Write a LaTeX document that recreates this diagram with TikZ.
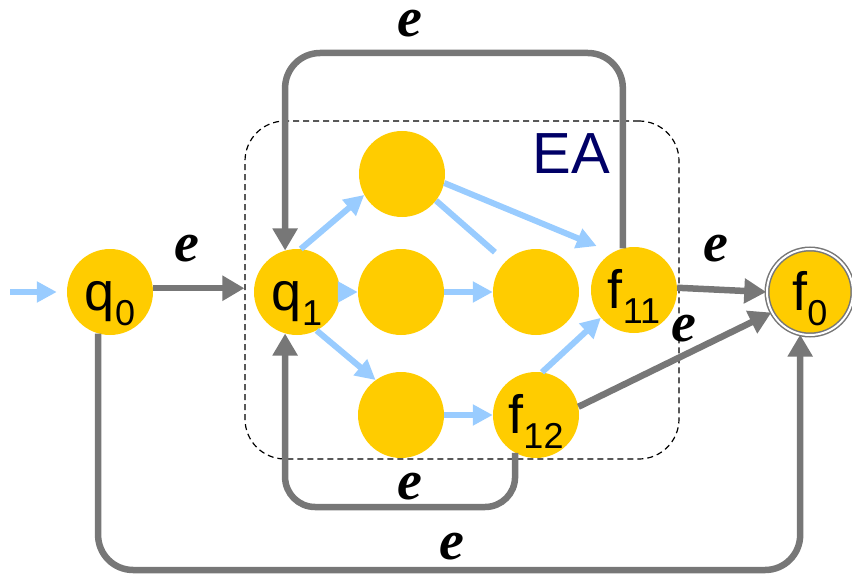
\documentclass[tikz,border=0pt]{standalone}
\usepackage{fontspec}
\setmainfont{Liberation Serif}
\setsansfont{Liberation Sans}
\usetikzlibrary{arrows.meta}
\definecolor{stategold}{HTML}{FFCC00}
\definecolor{edgegrey}{HTML}{777777}
\definecolor{epsblue}{HTML}{99CCFF}
\definecolor{eanavy}{HTML}{000066}
% lowered index for state names
\newcommand\stateidx[1]{\raisebox{-15pt}{\fontsize{36}{36}\selectfont #1}}
\begin{document}
\begin{tikzpicture}[x=1pt,y=-1pt,
  state/.style={circle, fill=stategold, minimum size=86pt, inner sep=0pt,
    font=\fontsize{54}{54}\selectfont\sffamily, text height=40pt, text depth=4pt},
  finalstate/.style={state, draw=edgegrey, line width=1.5pt, double=white, double distance=2pt},
  loopline/.style={draw=edgegrey, line width=6.5pt},
  greyarrow/.style={loopline, -{Triangle[length=22pt,width=24pt]}},
  bluearrow/.style={draw=epsblue, line width=6pt, -{Triangle[length=20pt,width=20pt]}},
  blueline/.style={draw=epsblue, line width=6pt},
  eps/.style={font=\fontsize{56}{56}\selectfont\bfseries\itshape, inner sep=0pt},
  eabox/.style={draw, dashed, dash pattern=on 6pt off 4pt, line width=1.2pt,
    rounded corners=40pt, minimum width=434pt, minimum height=338pt, inner sep=0pt}
]
\useasboundingbox (0,0) rectangle (852,575);

% embedded automaton frame
\node[eabox] (ea) at (462,290) {};
\node[font=\fontsize{58}{58}\selectfont\sffamily, text=eanavy] (ealabel) at (571,154) {EA};

% states
\node[state] (q0) at (110,292) {q\stateidx{0}};
\node[state] (q1) at (297,292) {q\stateidx{1}};
\node[state] (na) at (402,174) {};
\node[state] (nb) at (401,292) {};
\node[state] (nc) at (536,292) {};
\node[state] (f11) at (634,290) {f\stateidx{11}};
\node[state] (nd) at (401,415) {};
\node[state] (f12) at (536,415) {f\stateidx{12}};
\node[finalstate] (f0) at (810,292) {f\stateidx{0}};

% helper levels for the loops
\coordinate (topy) at (0,53);
\coordinate (boty) at (0,507);
\coordinate (outy) at (0,570);
\coordinate (entry) at (10,292);

% epsilon transitions
\draw[greyarrow] (q0.5) -- (q0.5 -| ea.west);
\draw[greyarrow] (f11.3) -- (f0.180);
\draw[greyarrow] (f12.11) -- (f0.208);
\draw[greyarrow, rounded corners=35pt] (f11.105) -- (f11.105 |- topy) -- (q1.106 |- topy) -- (q1.106);
\draw[greyarrow, rounded corners=30pt] (f12.241) -- (f12.241 |- boty) -- (q1.254 |- boty) -- (q1.254);
\draw[greyarrow, rounded corners=35pt] (q0.254) -- (q0.254 |- outy) -- (f0.257 |- outy) -- (f0.257);

% inner transitions
\draw[bluearrow, shorten >=10pt] (entry) -- (q0.west);
\draw[bluearrow] (q1.85) -- (na.209);
\draw[bluearrow] (q1.east) -- (nb.west);
\draw[bluearrow] (q1.-63) -- (nd.126);
\draw[bluearrow, shorten >=17pt] (na.-12) -- (f11.120);
\draw[blueline, shorten >=14pt] (na.-38) -- (nc.135);
\draw[bluearrow] (nb.east) -- (nc.west);
\draw[bluearrow] (nd.east) -- (f12.west);
\draw[bluearrow] (f12.82) -- (f11.220);

% edge labels
\node[eps] (etop) at (410,24) {e};
\node[eps] (eq) at (187,249) {e};
\node[eps] (ef11) at (716,249) {e};
\node[eps] (ef12) at (684,329) {e};
\node[eps] (ebot) at (410,487) {e};
\node[eps] (eout) at (452,547) {e};
\end{tikzpicture}
\end{document}
